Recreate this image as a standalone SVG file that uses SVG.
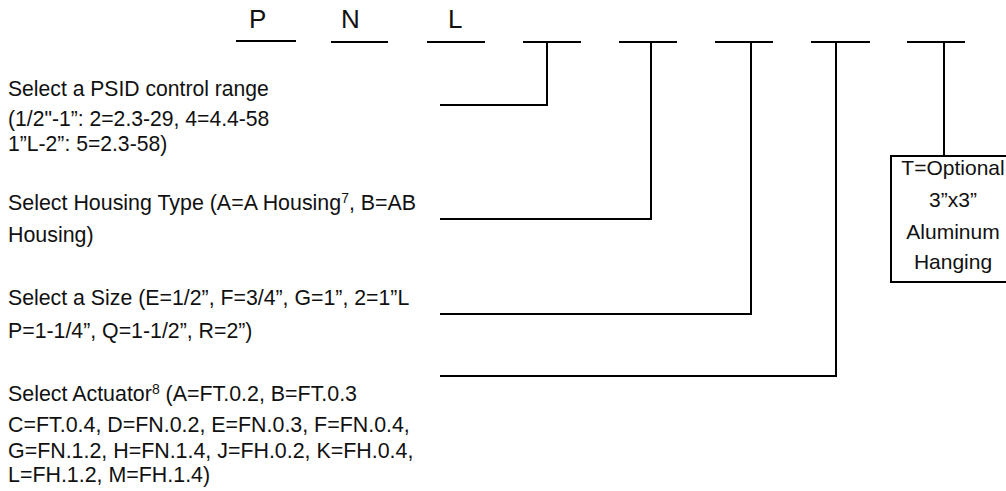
<svg xmlns="http://www.w3.org/2000/svg" width="1006" height="491" viewBox="0 0 1006 491">
<style>
text{font-family:"Liberation Sans",Arial,sans-serif;fill:#111}
.p{font-size:21.15px}
.m{font-size:21.3px}
.t{font-size:21.4px}
.h{font-size:26px}
.b{font-size:21px;text-anchor:middle}
.s{font-size:14px}
line,path,rect{stroke:#000;stroke-width:2;fill:none}
</style>
<g id="connectors">
<line x1="236" y1="41" x2="296" y2="41"/>
<line x1="331" y1="42" x2="388" y2="42"/>
<line x1="427" y1="42" x2="485" y2="42"/>
<line x1="523" y1="42" x2="581" y2="42"/>
<line x1="619" y1="42" x2="677" y2="42"/>
<line x1="715" y1="42" x2="773" y2="42"/>
<line x1="811" y1="42" x2="870" y2="42"/>
<line x1="907" y1="42" x2="965" y2="42"/>
<path d="M440 105H547V42"/>
<path d="M440 219H651V42"/>
<path d="M440 314H751V42"/>
<path d="M440 376H836V42"/>
<line x1="944" y1="42" x2="944" y2="156"/>
</g>
<g id="letters">
<text class="h" x="249" y="28">P</text>
<text class="h" x="341" y="28">N</text>
<text class="h" x="448" y="28">L</text>
</g>
<g id="label-psid">
<text class="p" x="8" y="96">Select a PSID control range</text>
<text class="p" x="8" y="126">(1/2"-1”: 2=2.3-29, 4=4.4-58</text>
<text class="p" x="8" y="151">1”L-2”: 5=2.3-58)</text>
</g>
<g id="label-housing">
<text class="t" x="8" y="210">Select Housing Type (A=A Housing<tspan class="s" dy="-7">7</tspan><tspan dy="7">, B=AB</tspan></text>
<text class="t" x="8" y="242">Housing)</text>
</g>
<g id="label-size">
<text class="m" x="8" y="305">Select a Size (E=1/2”, F=3/4”, G=1”, 2=1”L</text>
<text class="m" x="8" y="338">P=1-1/4”, Q=1-1/2”, R=2”)</text>
</g>
<g id="label-actuator">
<text class="t" x="8" y="401">Select Actuator<tspan class="s" dy="-7">8</tspan><tspan dy="7"> (A=FT.0.2, B=FT.0.3</tspan></text>
<text class="t" x="8" y="432">C=FT.0.4, D=FN.0.2, E=FN.0.3, F=FN.0.4,</text>
<text class="t" x="8" y="458">G=FN.1.2, H=FN.1.4, J=FH.0.2, K=FH.0.4,</text>
<text class="t" x="8" y="482">L=FH.1.2, M=FH.1.4)</text>
</g>
<g id="node-t">
<rect x="891" y="156" width="120" height="126"/>
<text class="b" x="953" y="175">T=Optional</text>
<text class="b" x="953" y="207">3”x3”</text>
<text class="b" x="953" y="239">Aluminum</text>
<text class="b" x="953" y="269">Hanging</text>
</g>
</svg>
